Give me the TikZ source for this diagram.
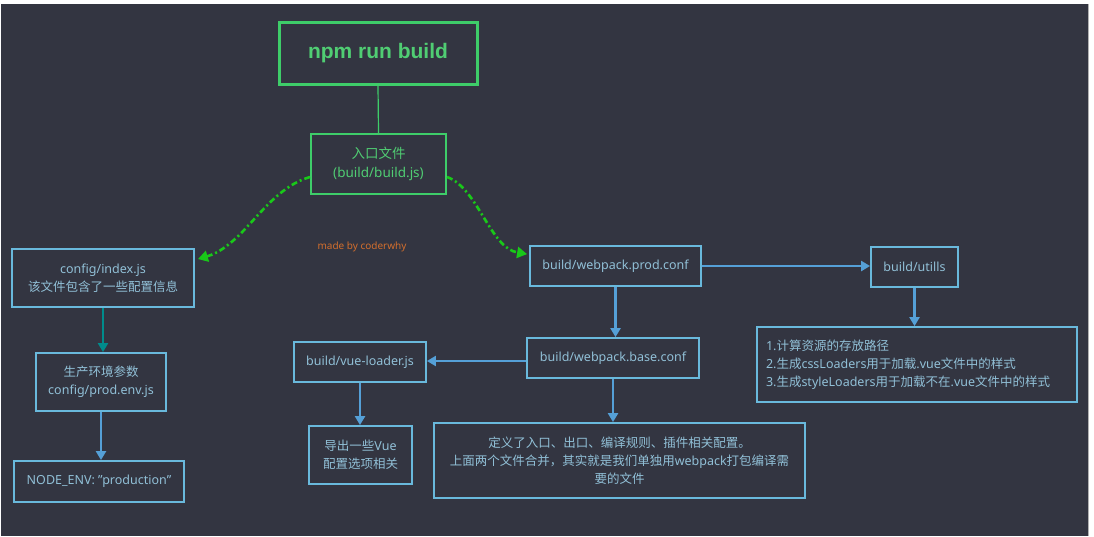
\documentclass[tikz,border=0pt]{standalone}
\usepackage{fontspec}
\setmainfont{Noto Sans}
\newfontfamily\cjk{Noto Sans CJK SC}
\newfontfamily\npmfont{Liberation Sans}
\usetikzlibrary{arrows.meta,calc}
\definecolor{bgdark}{RGB}{51,53,65}
\definecolor{gbox}{RGB}{62,205,105}
\definecolor{gtext}{RGB}{80,205,115}
\definecolor{garrow}{RGB}{25,200,25}
\definecolor{bbox}{RGB}{105,185,220}
\definecolor{btext}{RGB}{145,192,215}
\definecolor{barrow}{RGB}{85,160,215}
\definecolor{tarrow}{RGB}{0,140,140}
\definecolor{otext}{RGB}{210,110,45}
\tikzset{
  bluebox/.style={draw=bbox,line width=1.8pt,text=btext,inner sep=0pt,align=center,
    font=\fontsize{12.5}{18}\selectfont},
  greenbox/.style={draw=gbox,line width=2pt,text=gtext,inner sep=0pt,align=center,
    font=\fontsize{13.5}{19}\selectfont},
  blarrow/.style={draw=barrow,line width=2.2pt,-{Triangle[length=9pt,width=10pt]}},
  tearrow/.style={draw=tarrow,line width=2.2pt,-{Triangle[length=9pt,width=10pt]}},
  dasharrow/.style={draw=garrow,line width=2.6pt,dash pattern=on 6pt off 3pt on 2pt off 3pt,
    -{Triangle[length=10pt,width=11pt]}},
}
\begin{document}
\begin{tikzpicture}[x=1pt,y=-1pt]
\useasboundingbox (0,0) rectangle (1094,536);
\fill[white] (0,0) rectangle (1094,536);
\fill[bgdark] (1,4) rectangle (1088,536);
\draw[gray!60,line width=1.5pt] (1088.5,4) -- (1088.5,536);

% nodes
\node[draw=gbox,line width=3pt,text=gtext,inner sep=0pt,minimum width=198pt,minimum height=62pt,
  font={\npmfont\fontsize{21}{24}\selectfont\bfseries}] (npm) at (378,53) {npm run build};
\node[greenbox,minimum width=135pt,minimum height=60pt] (entry) at (378.5,164)
  {{\cjk 入口文件}\\(build/build.js)};
\node[bluebox,minimum width=182pt,minimum height=58pt] (cfg) at (103,278)
  {config/index.js\\{\cjk 该文件包含了一些配置信息}};
\node[bluebox,minimum width=130pt,minimum height=58pt] (prodenv) at (101,382)
  {{\cjk 生产环境参数}\\config/prod.env.js};
\node[bluebox,minimum width=170pt,minimum height=41pt] (nodeenv) at (99,481.5)
  {NODE\_ENV: "production"};
\node[bluebox,minimum width=171pt,minimum height=40pt] (prodconf) at (615.5,266)
  {build/webpack.prod.conf};
\node[bluebox,minimum width=87pt,minimum height=40pt] (utills) at (914.5,267)
  {build/utills};
\node[bluebox,minimum width=320pt,minimum height=75pt,align=left,text width=302pt] (list) at (917,364.5)
  {1.{\cjk 计算资源的存放路径}\\
   2.{\cjk 生成}cssLoaders{\cjk 用于加载}.vue{\cjk 文件中的样式}\\
   3.{\cjk 生成}styleLoaders{\cjk 用于加载不在}.vue{\cjk 文件中的样式}};
\node[bluebox,minimum width=172pt,minimum height=40pt] (base) at (613,358)
  {build/webpack.base.conf};
\node[bluebox,minimum width=132pt,minimum height=40pt] (vueloader) at (360,362)
  {build/vue-loader.js};
\node[bluebox,minimum width=103pt,minimum height=58pt] (export) at (360.5,455)
  {{\cjk 导出一些}Vue\\{\cjk 配置选项相关}};
\node[bluebox,minimum width=371pt,minimum height=75pt] (big) at (619.5,460.5)
  {{\cjk 定义了入口、出口、编译规则、插件相关配置。}\\
   {\cjk 上面两个文件合并，其实就是我们单独用}webpack{\cjk 打包编译需}\\
   {\cjk 要的文件}};
\node[text=otext,font=\fontsize{10}{12}\selectfont,inner sep=0pt] (made) at (362,247) {made by coderwhy};

% connectors
\draw[gbox,line width=1.2pt] (npm.south) -- (entry.north);
\coordinate (lstart) at ($(entry.west)+(0,13)$);
\coordinate (lend) at ($(cfg.north east)+(3,11)$);
\coordinate (rstart) at ($(entry.east)+(0,13)$);
\coordinate (rend) at ($(prodconf.north west)+(-2,9)$);
\draw[dasharrow] (lstart) .. controls (265,190) and (245,245) .. (lend);
\draw[dasharrow] (rstart) .. controls (478,188) and (490,248) .. (rend);
\draw[tearrow] (cfg.south) -- (cfg.south |- prodenv.north);
\draw[blarrow] (prodenv.south) -- (prodenv.south |- nodeenv.north);
\draw[blarrow] (prodconf.east) -- (prodconf.east -| utills.west);
\draw[blarrow] (utills.south) -- (utills.south |- list.north);
\draw[blarrow] (prodconf.south) -- (prodconf.south |- base.north);
\draw[blarrow] ([yshift=-3pt]base.west) -- ([yshift=-3pt]base.west -| vueloader.east);
\draw[blarrow] (vueloader.south) -- (vueloader.south |- export.north);
\draw[blarrow] (base.south) -- (base.south |- big.north);
\end{tikzpicture}
\end{document}
